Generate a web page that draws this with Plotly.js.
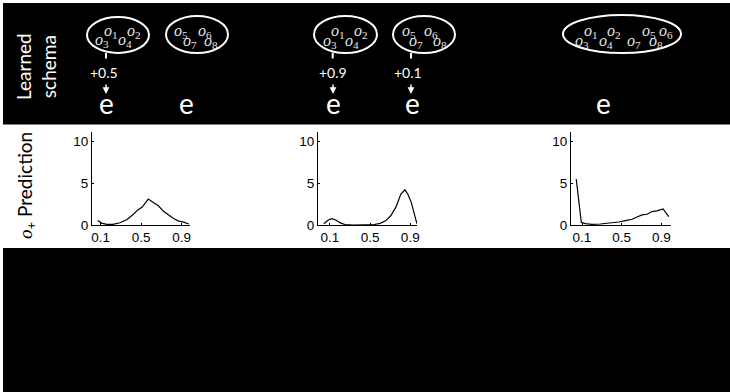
<!DOCTYPE html>
<html>
<head>
<meta charset="utf-8">
<script src="https://cdn.plot.ly/plotly-3.0.1.min.js"></script>
<style>html,body{margin:0;padding:0;background:#fff;}#chart{width:730px;height:392px;}</style>
</head>
<body>
<div id="chart"></div>
<script>
// ---- data ----
const xTicks = [0.1, 0.5, 0.9];
const xTickLabels = ['0.1', '0.5', '0.9'];
const yTicks = [0, 5, 10];
const yTickLabels = ['0', '5', '10'];

const x1 = [0.07, 0.11, 0.16, 0.22, 0.29, 0.36, 0.42, 0.47, 0.51, 0.54, 0.57, 0.62, 0.67, 0.72, 0.77, 0.82, 0.87, 0.92, 0.97];
const y1 = [0.54, 0.23, 0.08, 0.08, 0.27, 0.66, 1.25, 1.83, 2.14, 2.6, 3.1, 2.68, 2.3, 1.63, 1.17, 0.78, 0.47, 0.35, 0.12];

const x2 = [0.04, 0.083, 0.117, 0.16, 0.2, 0.25, 0.335, 0.44, 0.54, 0.6, 0.655, 0.706, 0.756, 0.807, 0.847, 0.875, 0.91, 0.966];
const y2 = [0.16, 0.57, 0.75, 0.6, 0.28, 0.05, 0.0, 0.0, 0.05, 0.2, 0.5, 1.1, 2.1, 3.7, 4.2, 3.7, 2.7, 0.16];

const x3 = [0.042, 0.093, 0.134, 0.2, 0.285, 0.386, 0.47, 0.537, 0.605, 0.655, 0.706, 0.756, 0.807, 0.857, 0.918, 0.975];
const y3 = [5.48, 0.32, 0.16, 0.08, 0.12, 0.24, 0.36, 0.52, 0.68, 0.96, 1.2, 1.28, 1.6, 1.68, 1.92, 1.0];

const weightLabels = ['+0.5', '+0.9', '+0.1'];
const eventLabel = 'e';
const rowLabels = ['Learned<br>schema', '<span style="font-family:\'Liberation Serif\'"><i>o</i></span><sub>+</sub> Prediction'];

// ---- helpers (pixel -> paper) ----
const W = 730, H = 392;
const px = x => x / W;
const py = y => 1 - y / H;

const panels = [
  {dom: [92, 190], range: [0.014, 0.982], x: x1, y: y1},
  {dom: [318, 417], range: [-0.017, 0.967], x: x2, y: y2},
  {dom: [571, 671], range: [-0.011, 0.998], x: x3, y: y3}
];
const plotTop = 132, plotBottom = 225;
const tickFont = {size: 13.5, family: 'Liberation Sans, Arial, sans-serif', color: '#000'};

const data = [];
const layout = {
  width: W, height: H,
  margin: {l: 0, r: 0, t: 0, b: 0},
  paper_bgcolor: '#ffffff',
  plot_bgcolor: 'rgba(0,0,0,0)',
  showlegend: false,
  font: {family: 'Liberation Sans, Arial, sans-serif', size: 13, color: '#000'},
  shapes: [],
  annotations: []
};

panels.forEach((p, i) => {
  const n = i === 0 ? '' : String(i + 1);
  data.push({
    type: 'scatter', mode: 'lines', x: p.x, y: p.y,
    xaxis: 'x' + n, yaxis: 'y' + n,
    line: {color: '#000', width: 1.2},
    hoverinfo: 'skip'
  });
  layout['xaxis' + n] = {
    domain: [px(p.dom[0]), px(p.dom[1])], range: p.range, anchor: 'y' + n,
    showline: true, linecolor: '#000', linewidth: 1, mirror: false,
    showgrid: false, zeroline: false,
    tickvals: xTicks, ticktext: xTickLabels, ticks: 'inside', ticklen: 2, tickcolor: '#000',
    tickfont: tickFont
  };
  layout['yaxis' + n] = {
    domain: [py(plotBottom), py(plotTop)], range: [0, 11.1], anchor: 'x' + n,
    showline: true, linecolor: '#000', linewidth: 1,
    showgrid: false, zeroline: false,
    tickvals: yTicks, ticktext: yTickLabels, ticks: 'inside', ticklen: 2, tickcolor: '#000',
    tickfont: tickFont
  };
});

// background bands
layout.shapes.push({type: 'rect', xref: 'paper', yref: 'paper', x0: px(3), x1: px(W), y0: py(124.5), y1: py(3),
  fillcolor: '#000', line: {width: 0}, layer: 'below'});
layout.shapes.push({type: 'rect', xref: 'paper', yref: 'paper', x0: px(3), x1: px(W), y0: py(H), y1: py(248),
  fillcolor: '#000', line: {width: 0}, layer: 'below'});

// ellipses [x0, x1, y0, y1]
const ellipses = [[87, 149, 17, 53], [166, 228, 16, 53], [314, 377, 16, 53], [393, 455, 16, 53], [563, 681, 15, 53]];
ellipses.forEach(e => layout.shapes.push({type: 'circle', xref: 'paper', yref: 'paper',
  x0: px(e[0]), x1: px(e[1]), y0: py(e[3]), y1: py(e[2]), line: {color: '#fff', width: 2}}));

// connector ticks from ellipses
[106, 332.7, 411].forEach(x => layout.shapes.push({type: 'line', xref: 'paper', yref: 'paper',
  x0: px(x), x1: px(x), y0: py(53), y1: py(58.5), line: {color: '#fff', width: 2}}));

// object labels inside ellipses: [index, cx, cy]
const objPos = [
  [1, 111, 31], [2, 134, 31], [3, 102, 41], [4, 124.5, 41],
  [5, 181, 31], [6, 204.5, 31], [7, 189.5, 42], [8, 211, 42],
  [1, 337.5, 31], [2, 360.5, 31], [3, 329.5, 42], [4, 352, 42],
  [5, 409, 31], [6, 431, 31], [7, 416, 42], [8, 439.5, 42],
  [1, 591, 31], [2, 614, 31], [5, 648.5, 31], [6, 666, 31],
  [3, 582, 42], [4, 606, 42], [7, 634, 42], [8, 656, 42]
];
objPos.forEach(o => layout.annotations.push({
  xref: 'paper', yref: 'paper', x: px(o[1]), y: py(o[2]), xanchor: 'center', yanchor: 'middle',
  text: '<i>o</i><sub>' + o[0] + '</sub>', showarrow: false,
  font: {family: 'Liberation Serif, serif', size: 16, color: '#e6e6e6'}
}));

// weights
[[104, weightLabels[0]], [332.5, weightLabels[1]], [407.5, weightLabels[2]]].forEach(w => layout.annotations.push({
  xref: 'paper', yref: 'paper', x: px(w[0]), y: py(72), xanchor: 'center', yanchor: 'middle',
  text: w[1], showarrow: false, font: {family: 'Lato, sans-serif', size: 14, color: '#fff'}
}));

// arrows
[106, 333, 411].forEach(x => layout.annotations.push({
  xref: 'paper', yref: 'paper', x: px(x), y: py(94), text: '', showarrow: true,
  ax: 0, ay: -11, arrowcolor: '#fff', arrowwidth: 1.5, arrowhead: 2, arrowsize: 0.9, standoff: 0
}));

// event symbols
[106.7, 186, 333.5, 412.5, 603.5].forEach(x => layout.annotations.push({
  xref: 'paper', yref: 'paper', x: px(x), y: py(103), xanchor: 'center', yanchor: 'middle',
  text: eventLabel, showarrow: false, font: {family: 'Lato, sans-serif', size: 28, color: '#fff'}
}));

// row labels
layout.annotations.push({xref: 'paper', yref: 'paper', x: px(36), y: py(67), xanchor: 'center', yanchor: 'middle',
  text: rowLabels[0], textangle: -90, showarrow: false, font: {family: 'Lato, sans-serif', size: 19, color: '#fff'}});
layout.annotations.push({xref: 'paper', yref: 'paper', x: px(26), y: py(186), xanchor: 'center', yanchor: 'middle',
  text: rowLabels[1], textangle: -90, showarrow: false, font: {family: 'Lato, sans-serif', size: 19, color: '#000'}});

Plotly.newPlot('chart', data, layout, {staticPlot: true, displayModeBar: false});
</script>
</body>
</html>
